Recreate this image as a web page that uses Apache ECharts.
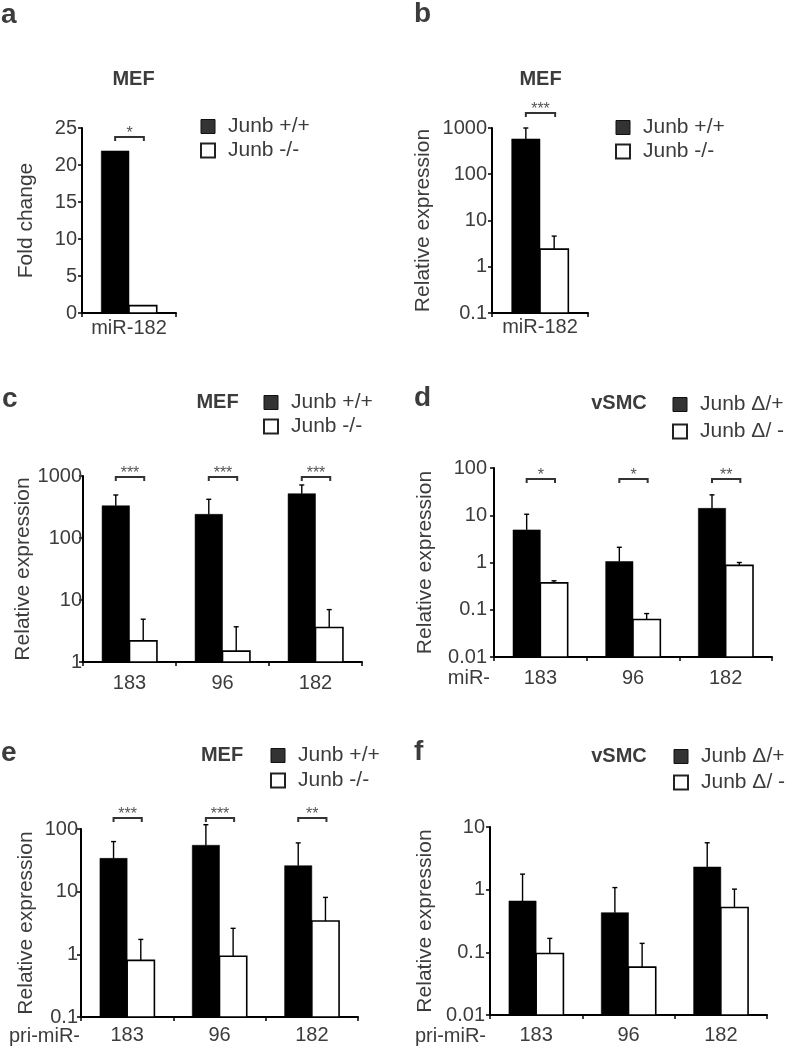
<!DOCTYPE html>
<html><head><meta charset="utf-8">
<script src="https://cdn.jsdelivr.net/npm/echarts@6/dist/echarts.min.js"></script>
<style>html,body{margin:0;padding:0;background:#fff}#c{width:787px;height:1048px}</style>
</head><body><div id="c"></div>
<script>
// ---- Panel a: MEF, miR-182 fold change (linear) ----
const catsA = ['miR-182'];
const yTicksA = [0, 5, 10, 15, 20, 25];
const wtA = [21.9];
const koA = [1.0];
const sigA = ['*'];
// ---- Panel b: MEF, miR-182 relative expression (log) ----
const catsB = ['miR-182'];
const yTicksB = [0.1, 1, 10, 100, 1000];
const wtB = [580];   const wtErrB = [1000];
const koB = [2.4];   const koErrB = [4.6];
const sigB = ['***'];
// ---- Panel c: MEF mature miRs ----
const catsC = ['183', '96', '182'];
const yTicksC = [1, 10, 100, 1000];
const wtC = [331, 241, 519];   const wtErrC = [494, 421, 716];
const koC = [2.19, 1.5, 3.6];  const koErrC = [4.9, 3.7, 7.0];
const sigC = ['***', '***', '***'];
// ---- Panel d: vSMC mature miRs ----
const catsD = ['183', '96', '182'];
const yTicksD = [0.01, 0.1, 1, 10, 100];
const wtD = [4.9, 1.05, 14];      const wtErrD = [10.5, 2.1, 27];
const koD = [0.37, 0.062, 0.87];  const koErrD = [0.41, 0.083, 1.0];
const sigD = ['*', '*', '**'];
// ---- Panel e: MEF pri-miRs ----
const catsE = ['183', '96', '182'];
const yTicksE = [0.1, 1, 10, 100];
const wtE = [34, 55, 26];        const wtErrE = [63, 117, 60];
const koE = [0.80, 0.93, 3.4];   const koErrE = [1.73, 2.6, 8.1];
const sigE = ['***', '***', '**'];
// ---- Panel f: vSMC pri-miRs ----
const catsF = ['183', '96', '182'];
const yTicksF = [0.01, 0.1, 1, 10];
const wtF = [0.66, 0.43, 2.3];      const wtErrF = [1.77, 1.08, 5.6];
const koF = [0.096, 0.058, 0.52];   const koErrF = [0.167, 0.139, 1.02];
const sigF = [];

const namesMEF = ['Junb +/+', 'Junb -/-'];
const namesSMC = ['Junb \u0394/+', 'Junb \u0394/ -'];

const FONT = '"Liberation Sans", Arial, Helvetica, sans-serif';
const TXT = '#3c3c3c';

const panels = [
  {cats: catsA, ticks: yTicksA, wt: wtA, wtErr: null, ko: koA, koErr: null, sig: sigA, log: false, names: namesMEF,
   grid: {left: 82, top: 128, width: 94, height: 185}, yName: 'Fold change', nameGap: 45, yMargin: 5, xMargin: 5, bracketDy: 9,
   legend: {left: 200, top: 116, gap: 3}},
  {cats: catsB, ticks: yTicksB, wt: wtB, wtErr: wtErrB, ko: koB, koErr: koErrB, sig: sigB, log: true, names: namesMEF,
   grid: {left: 492, top: 128, width: 96, height: 185}, yName: 'Relative expression', nameGap: 58, yMargin: 5, xMargin: 4, bracketDy: -15,
   legend: {left: 615, top: 117, gap: 3}},
  {cats: catsC, ticks: yTicksC, wt: wtC, wtErr: wtErrC, ko: koC, koErr: koErrC, sig: sigC, log: true, names: namesMEF,
   grid: {left: 83, top: 476, width: 279, height: 186}, yName: 'Relative expression', nameGap: 45, yMargin: 1, xMargin: 11, bracketDy: 1,
   legend: {left: 263, top: 392, gap: 3}},
  {cats: catsD, ticks: yTicksD, wt: wtD, wtErr: wtErrD, ko: koD, koErr: koErrD, sig: sigD, log: true, names: namesSMC,
   grid: {left: 494, top: 468, width: 278, height: 189}, yName: 'Relative expression', nameGap: 58, yMargin: 7, xMargin: 11, bracketDy: 11,
   legend: {left: 672, top: 394, gap: 6}},
  {cats: catsE, ticks: yTicksE, wt: wtE, wtErr: wtErrE, ko: koE, koErr: koErrE, sig: sigE, log: true, names: namesMEF,
   grid: {left: 81, top: 829, width: 277, height: 188}, yName: 'Relative expression', nameGap: 44, yMargin: 3, xMargin: 8, bracketDy: -11,
   legend: {left: 270, top: 745, gap: 4}},
  {cats: catsF, ticks: yTicksF, wt: wtF, wtErr: wtErrF, ko: koF, koErr: koErrF, sig: sigF, log: true, names: namesSMC,
   grid: {left: 490, top: 827, width: 277, height: 188}, yName: 'Relative expression', nameGap: 54, yMargin: 5, xMargin: 10, bracketDy: 0,
   legend: {left: 673, top: 746, gap: 5}}
];

const BAR_FRAC = 0.295;

function barRender(p, side) {
  return function (params, api) {
    const i = api.value(0), v = api.value(1), e = api.value(2);
    const cs = params.coordSys;
    const band = cs.width / p.cats.length;
    const w = band * BAR_FRAC;
    const top = api.coord([i, v]);
    const base = api.coord([i, p.ticks[0]]);
    const x0 = side === 0 ? top[0] - w : top[0];
    const children = [{
      type: 'rect',
      shape: {x: x0, y: top[1], width: w, height: base[1] - top[1]},
      style: side === 0 ? {fill: '#000', stroke: '#000', lineWidth: 0.5} : {fill: '#fff', stroke: '#000', lineWidth: 1.6}
    }];
    if (e != null && !isNaN(e)) {
      const et = api.coord([i, e]);
      const xc = x0 + w / 2;
      children.push({type: 'line', shape: {x1: xc, y1: top[1], x2: xc, y2: et[1]}, style: {stroke: '#000', lineWidth: 1.4}});
      children.push({type: 'line', shape: {x1: xc - 2.5, y1: et[1], x2: xc + 2.5, y2: et[1]}, style: {stroke: '#000', lineWidth: 1.4}});
    }
    return {type: 'group', children: children};
  };
}

function sigRender(p) {
  return function (params, api) {
    const i = params.dataIndex;
    const cs = params.coordSys;
    const band = cs.width / p.cats.length;
    const w = band * BAR_FRAC;
    const c = api.coord([i, p.ticks[0]]);
    const x1 = c[0] - w / 2, x2 = c[0] + w / 2 + 1;
    const y = cs.y + p.bracketDy;
    return {type: 'group', children: [
      {type: 'polyline', shape: {points: [[x1, y + 4], [x1, y], [x2, y], [x2, y + 4]]}, style: {stroke: '#333', lineWidth: 2, fill: null}},
      {type: 'text', x: (x1 + x2) / 2, y: y - 3,
       style: {text: p.sig[i], font: '16px ' + FONT, fill: '#555', textAlign: 'center', textVerticalAlign: 'middle', align: 'center', verticalAlign: 'middle'}}
    ]};
  };
}

const option = {
  animation: false,
  backgroundColor: '#fff',
  textStyle: {fontFamily: FONT},
  grid: [], xAxis: [], yAxis: [], series: [], legend: [],
  graphic: []
};

panels.forEach(function (p, k) {
  option.grid.push(Object.assign({containLabel: false, outerBoundsMode: 'none'}, p.grid));
  option.xAxis.push({
    type: 'category', gridIndex: k, data: p.cats, boundaryGap: true,
    axisLine: {show: true, lineStyle: {color: '#000', width: 2}},
    axisTick: {show: true, inside: false, length: 4, alignWithLabel: false, lineStyle: {color: '#000', width: 1.5}},
    axisLabel: {margin: p.xMargin, fontSize: 20, color: TXT, fontFamily: FONT, interval: 0},
    splitLine: {show: false}
  });
  const ya = {
    type: p.log ? 'log' : 'value', gridIndex: k,
    min: p.ticks[0], max: p.ticks[p.ticks.length - 1],
    axisLine: {show: true, lineStyle: {color: '#000', width: 2}},
    axisTick: {show: true, inside: false, length: 4, lineStyle: {color: '#000', width: 1.5}},
    axisLabel: {margin: p.yMargin, fontSize: 20, color: TXT, fontFamily: FONT, showMinLabel: true, showMaxLabel: true,
      formatter: function (v) { return String(+Number(v).toPrecision(6)); }},
    splitLine: {show: false},
    name: p.yName, nameLocation: 'middle', nameGap: p.nameGap,
    nameTextStyle: {fontSize: 21, color: TXT, fontFamily: FONT}
  };
  if (p.log) { ya.logBase = 10; } else { ya.interval = p.ticks[1] - p.ticks[0]; }
  option.yAxis.push(ya);

  option.series.push({
    type: 'custom', name: p.names[0], xAxisIndex: k, yAxisIndex: k, clip: false,
    itemStyle: {color: '#333'},
    renderItem: barRender(p, 0),
    data: p.wt.map(function (v, i) { return [i, v, p.wtErr ? p.wtErr[i] : NaN]; })
  });
  option.series.push({
    type: 'custom', name: p.names[1], xAxisIndex: k, yAxisIndex: k, clip: false,
    itemStyle: {color: '#fff'},
    renderItem: barRender(p, 1),
    data: p.ko.map(function (v, i) { return [i, v, p.koErr ? p.koErr[i] : NaN]; })
  });
  if (p.sig.length) {
    option.series.push({
      type: 'custom', name: 'sig' + k, xAxisIndex: k, yAxisIndex: k, clip: false, silent: true,
      renderItem: sigRender(p),
      data: p.sig.map(function (s, i) { return [i]; })
    });
  }
  option.legend.push({
    left: p.legend.left, top: p.legend.top, orient: 'vertical', itemGap: p.legend.gap,
    itemWidth: 14, itemHeight: 14, selectedMode: false, padding: 0,
    textStyle: {fontSize: 21, color: TXT, fontFamily: FONT, padding: [0, 0, 0, 8]},
    data: [
      {name: p.names[0], icon: 'rect', itemStyle: {color: '#333', borderColor: '#111', borderWidth: 1}},
      {name: p.names[1], icon: 'rect', itemStyle: {color: '#fff', borderColor: '#222', borderWidth: 2}}
    ]
  });
});

function txt(s, x, y, font, align) {
  return {type: 'text', x: x, y: y, silent: true,
    style: {text: s, font: font, fill: TXT, textAlign: align, textVerticalAlign: 'middle', align: align, verticalAlign: 'middle'}};
}
const LET = 'bold 28px ' + FONT, TIT = 'bold 20px ' + FONT, LAB = '20px ' + FONT;
option.graphic = [
  txt('a', 1, 15, LET, 'left'), txt('b', 414, 14, LET, 'left'),
  txt('c', 2, 399, LET, 'left'), txt('d', 414, 398, LET, 'left'),
  txt('e', 1, 753, LET, 'left'), txt('f', 414, 752, LET, 'left'),
  txt('MEF', 133.5, 79.5, TIT, 'center'), txt('MEF', 540.5, 79.5, TIT, 'center'),
  txt('MEF', 217.5, 402.5, TIT, 'center'), txt('vSMC', 619, 403.5, TIT, 'center'),
  txt('MEF', 222, 755.5, TIT, 'center'), txt('vSMC', 619, 756.5, TIT, 'center'),
  txt('miR-', 490, 678.5, LAB, 'right'), txt('pri-miR-', 80, 1036, LAB, 'right'),
  txt('pri-miR-', 486, 1036, LAB, 'right')
];

const chart = echarts.init(document.getElementById('c'), null, {renderer: 'canvas'});
chart.setOption(option);
</script>
</body></html>
